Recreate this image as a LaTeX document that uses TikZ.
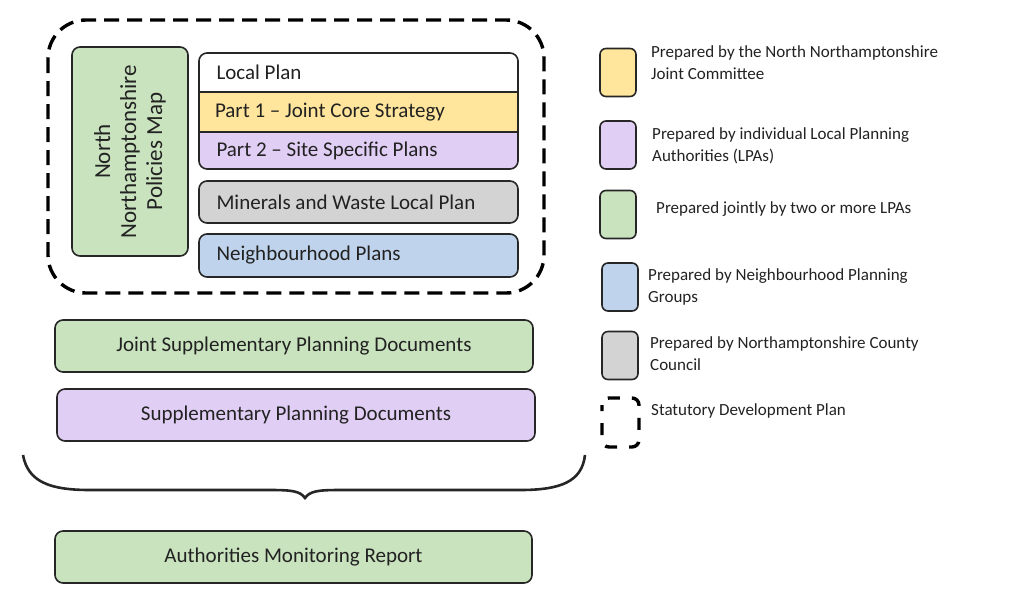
\documentclass[tikz,border=0pt]{standalone}
\usepackage{fontspec}
\setmainfont{Carlito}
\definecolor{edge}{RGB}{38,38,38}
\definecolor{ink}{RGB}{34,34,34}
\definecolor{jcyellow}{RGB}{255,230,156}
\definecolor{lpapurple}{RGB}{225,206,244}
\definecolor{jointgreen}{RGB}{201,227,190}
\definecolor{npblue}{RGB}{191,211,236}
\definecolor{ccgray}{RGB}{211,211,211}
\newcommand{\bandtext}[2][16pt]{\hspace*{#1}\makebox[300pt][l]{#2}}
\tikzset{
  box/.style={draw=edge, line width=1.6pt, rounded corners=8pt, text=ink},
  band/.style={rectangle, minimum height=39pt, minimum width=319pt, inner sep=0pt,
    text=ink, font=\fontsize{21}{24}\selectfont},
  wide/.style={box, minimum width=478pt, minimum height=52pt,
    font=\fontsize{21}{24}\selectfont},
  swatch/.style={box, rounded corners=6pt, minimum width=36pt, minimum height=48pt,
    inner sep=0pt},
  key/.style={anchor=west, align=left, inner sep=0pt, text=ink,
    font=\fontsize{17}{22}\selectfont},
  sdp/.style={draw=black, line width=3.4pt, dash pattern=on 15pt off 8pt},
}
\begin{document}
\begin{tikzpicture}[x=1pt, y=-1pt]
  \useasboundingbox (0,0) rectangle (1024,606);
  % statutory development plan
  \draw[sdp, rounded corners=38pt] (48,20) rectangle (544,293);
  \node[box, fill=jointgreen, rotate=90, minimum width=209pt, minimum height=116pt,
    align=center, font=\fontsize{23}{26}\selectfont] (map) at (130,151.5)
    {North\\Northamptonshire\\Policies Map};
  \begin{scope}
    \clip[rounded corners=8pt] (199,53) rectangle (518,169);
    \node[band, fill=white] (lp) at (358.5,72.5) {\bandtext{\raisebox{-2pt}{Local Plan}}};
    \node[band, fill=jcyellow] (jcs) at (358.5,112) {\bandtext[13pt]{\raisebox{-1pt}{Part 1 -- Joint Core Strategy}}};
    \node[band, fill=lpapurple, minimum height=38pt] (ssp) at (358.5,150.5) {\bandtext{Part 2 -- Site Specific Plans}};
  \end{scope}
  \draw[box, fill=none] (199,53) rectangle (518,169);
  \draw[draw=edge, line width=1.6pt] (lp.south west) -- (lp.south east);
  \draw[draw=edge, line width=1.6pt] (jcs.south west) -- (jcs.south east);
  \node[box, band, fill=ccgray, minimum height=42pt] (mwlp) at (358.5,202) {\bandtext{Minerals and Waste Local Plan}};
  \node[box, band, fill=npblue, minimum height=43pt] (np) at (358.5,255.5) {\bandtext{\raisebox{-1pt}{Neighbourhood Plans}}};
  % supplementary documents
  \node[wide, fill=jointgreen] (jspd) at (294,346) {Joint Supplementary Planning Documents};
  \node[wide, fill=lpapurple] (spd) at (296,415) {Supplementary Planning Documents};
  \coordinate (bl) at (23,455);
  \coordinate (br) at (585,455);
  \coordinate (btip) at (305,498);
  \draw[line width=2.6pt, edge]
    (bl) .. controls (28,482) and (50,490) .. (90,490) -- (270,490)
    .. controls (292,490) and (300,491) .. (btip)
    .. controls (310,491) and (318,490) .. (340,490) -- (520,490)
    .. controls (560,490) and (582,482) .. (br);
  \node[wide, fill=jointgreen, minimum width=477pt] (amr) at (293.5,557) {Authorities Monitoring Report};
  % legend
  \node[swatch, fill=jcyellow] (kjc) at (618,72.5) {};
  \node[key] at (651,63) {Prepared by the North Northamptonshire\\Joint Committee};
  \node[swatch, fill=lpapurple] (klpa) at (618,145) {};
  \node[key] at (652,145.5) {Prepared by individual Local Planning\\Authorities (LPAs)};
  \node[swatch, fill=jointgreen] (kjoint) at (618,214.5) {};
  \node[key] at (656,209) {Prepared jointly by two or more LPAs};
  \node[swatch, fill=npblue] (knp) at (620,287) {};
  \node[key] at (648,286.5) {Prepared by Neighbourhood Planning\\Groups};
  \node[swatch, fill=ccgray] (kcc) at (620,355.5) {};
  \node[key] at (650,354) {Prepared by Northamptonshire County\\Council};
  \draw[sdp, rounded corners=7pt, dash pattern=on 12pt off 12pt, dash phase=6pt]
    (602,398) rectangle (639,447);
  \node[key] at (651,411) {Statutory Development Plan};
\end{tikzpicture}
\end{document}
